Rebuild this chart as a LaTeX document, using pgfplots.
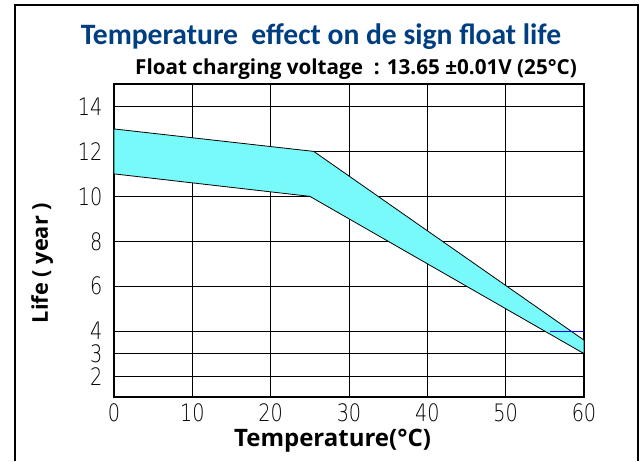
\documentclass[border=0pt]{standalone}
\usepackage{fontspec}
\usepackage{pgfplots}
\pgfplotsset{compat=1.18}
\setmainfont{Open Sans}
\newfontfamily\titlefont{Carlito}
\newfontfamily\tickfont[FakeStretch=0.8]{DejaVu Sans ExtraLight}
\definecolor{titleblue}{RGB}{0,62,130}
\definecolor{bandcyan}{RGB}{120,250,250}
\begin{document}
\begin{tikzpicture}[x=0.75pt,y=0.75pt]
% picture box in reference pixels, origin at the axis' lower left corner (114,397)
\useasboundingbox (-114,-64) rectangle (529,397);
\draw[line width=1.5pt] (-99,-64) |- (524,392) -- (524,-64);
\node[font=\titlefont\bfseries\fontsize{22.2}{23}\selectfont, text=titleblue] at (207,360) {Temperature\ \ effect on de sign float life};
\node[font=\bfseries\fontsize{15.5}{16}\selectfont] at (242,328) {Float charging voltage\ \ : 13.65 ±0.01V (25°C)};
\begin{axis}[
    at={(0,0)}, anchor=south west,
    scale only axis,
    width=352.5pt, height=234.75pt,
    xmin=0, xmax=60, ymin=1.07, ymax=15,
    xtick={0,10,...,60},
    ytick={2,3,4,6,8,10,12,14},
    grid=major,
    grid style={black, line width=0.6pt},
    axis line style={black, line width=0.8pt},
    major tick length=0pt,
    /pgf/number format/assume math mode=true,
    ticklabel style={font=\tickfont\fontsize{18}{18}\selectfont, inner sep=0pt},
    xticklabel style={yshift=-5pt},
    yticklabel style={xshift=-8.5pt},
    xlabel={Temperature(°C)},
    ylabel={Life ( year )},
    xlabel style={font=\bfseries\fontsize{18}{18}\selectfont, inner sep=0pt,
      at={(axis description cs:0.465,-0.139)}, anchor=center},
    ylabel style={font=\bfseries\fontsize{16.3}{16}\selectfont,
      at={(axis description cs:-0.153,0.428)}, anchor=center},
  ]
  \addplot[fill=bandcyan, draw=black, line width=0.6pt]
    coordinates {
    (0,13) (25.5,12) (60,3.6) (60,3) (25,10) (0,11)
    } -- cycle;
  \addplot[blue, line width=0.6pt] coordinates {(55.6,4) (60,4)};
\end{axis}
\end{tikzpicture}
\end{document}
